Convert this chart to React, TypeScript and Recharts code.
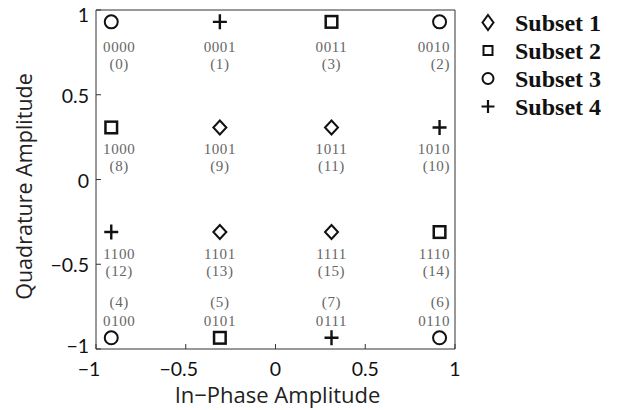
import React from 'react';
import { ScatterChart, Scatter, XAxis, YAxis, Legend, ReferenceArea } from 'recharts';

const xTicks = [-1, -0.5, 0, 0.5, 1];
const yTicks = [-1, -0.5, 0, 0.5, 1];
const subsetNames = ['Subset 1', 'Subset 2', 'Subset 3', 'Subset 4'];
const subsetKinds = ['diamond', 'square', 'circle', 'cross'];

const subset1 = [
  { x: -0.31, y: 0.307, code: '1001', idx: 9 },
  { x: 0.312, y: 0.307, code: '1011', idx: 11 },
  { x: -0.31, y: -0.31, code: '1101', idx: 13 },
  { x: 0.312, y: -0.31, code: '1111', idx: 15 },
];
const subset2 = [
  { x: 0.312, y: 0.93, code: '0011', idx: 3 },
  { x: -0.915, y: 0.307, code: '1000', idx: 8 },
  { x: 0.914, y: -0.31, code: '1110', idx: 14 },
  { x: -0.31, y: -0.934, code: '0101', idx: 5 },
];
const subset3 = [
  { x: -0.915, y: 0.93, code: '0000', idx: 0 },
  { x: 0.914, y: 0.93, code: '0010', idx: 2 },
  { x: -0.915, y: -0.934, code: '0100', idx: 4 },
  { x: 0.914, y: -0.934, code: '0110', idx: 6 },
];
const subset4 = [
  { x: -0.31, y: 0.93, code: '0001', idx: 1 },
  { x: 0.914, y: 0.307, code: '1010', idx: 10 },
  { x: -0.915, y: -0.31, code: '1100', idx: 12 },
  { x: 0.312, y: -0.934, code: '0111', idx: 7 },
];
const subsets = [subset1, subset2, subset3, subset4];

const INK = '#111';
const FRAME = '#333';
const SANS = 'Open Sans, sans-serif';
const TICKFONT = 'Lato, Open Sans, sans-serif';
const SERIF = 'Liberation Serif, serif';

function Marker({ kind, cx, cy }: any) {
  const s = { fill: 'none', stroke: INK, strokeWidth: 2 };
  switch (kind) {
    case 'diamond':
      return <path d={`M${cx},${cy - 7} L${cx + 6.5},${cy} L${cx},${cy + 7} L${cx - 6.5},${cy} Z`} {...s} />;
    case 'square':
      return <rect x={cx - 5.8} y={cy - 5.8} width={11.6} height={11.6} {...s} strokeWidth={2.5} />;
    case 'circle':
      return <circle cx={cx} cy={cy} r={6.5} {...s} />;
    default:
      return <path d={`M${cx - 7},${cy} H${cx + 7} M${cx},${cy - 7.5} V${cy + 7.5}`} {...s} strokeWidth={2.4} />;
  }
}

function LegendMarker({ kind, cx, cy }: any) {
  const s = { fill: 'none', stroke: INK, strokeWidth: 2 };
  switch (kind) {
    case 'diamond':
      return <path d={`M${cx},${cy - 7.5} L${cx + 5.5},${cy} L${cx},${cy + 7.5} L${cx - 5.5},${cy} Z`} {...s} />;
    case 'square':
      return <rect x={cx - 4.5} y={cy - 4.5} width={9} height={9} {...s} />;
    case 'circle':
      return <circle cx={cx} cy={cy} r={5.5} {...s} />;
    default:
      return <path d={`M${cx - 6.5},${cy} H${cx + 6.5} M${cx},${cy - 6.5} V${cy + 6.5}`} {...s} strokeWidth={2.2} />;
  }
}

const makeShape = (kind: string) => (props: any) => {
  const { cx, cy, payload } = props;
  let codeDy = 26.5;
  let idxDy = 44;
  if (payload.y > 0.8) { codeDy = 30; idxDy = 47; }
  else if (payload.y < -0.8) { codeDy = -12; idxDy = -31; }
  let tx = cx;
  let anchor: any = 'middle';
  if (payload.x < -0.8) tx = cx + 8;
  else if (payload.x > 0.8) { tx = cx + 10.5; anchor = 'end'; }
  const tStyle = { fontFamily: SERIF, fontSize: 15, fill: '#666', letterSpacing: 0.6 };
  return (
    <g>
      <Marker kind={kind} cx={cx} cy={cy} />
      <text x={tx} y={cy + codeDy} textAnchor={anchor} {...tStyle}>{payload.code}</text>
      <text x={tx} y={cy + idxDy} textAnchor={anchor} {...tStyle}>{`(${payload.idx})`}</text>
    </g>
  );
};

const fmt = (v: number) => (v < 0 ? `\u2212${Math.abs(v)}` : `${v}`);

const BottomTick = (props: any) => {
  const { x, y, payload } = props;
  const v = payload.value;
  return (
    <g>
      <line x1={x} x2={x} y1={y} y2={y - 5} stroke={FRAME} />
      <text x={x - (v < 0 ? 7 : 0)} y={y + 27} textAnchor="middle" fontFamily={TICKFONT} fontSize={19.5} fill={INK}>{fmt(v)}</text>
    </g>
  );
};
const TopTick = (props: any) => {
  const { x, y } = props;
  return <line x1={x} x2={x} y1={y} y2={y + 5} stroke={FRAME} />;
};
const LeftTick = (props: any) => {
  const { x, y, payload } = props;
  const v = payload.value;
  const dy = v === 1 ? 12 : v === -1 ? 4 : 8;
  return (
    <g>
      <line x1={x} x2={x + 5} y1={y} y2={y} stroke={FRAME} />
      <text x={x - 7} y={y + dy} textAnchor="end" fontFamily={TICKFONT} fontSize={19.5} fill={INK}>{fmt(v)}</text>
    </g>
  );
};
const RightTick = (props: any) => {
  const { x, y } = props;
  return <line x1={x} x2={x - 5} y1={y} y2={y} stroke={FRAME} />;
};

const LegendContent = () => (
  <svg width={149} height={120}>
    {subsetNames.map((name, i) => {
      const cy = 17.5 + i * 28;
      return (
        <g key={name}>
          <LegendMarker kind={subsetKinds[i]} cx={18} cy={cy} />
          <text x={45} y={cy + 8} fontFamily={SERIF} fontWeight="bold" fontSize={24} fill={INK}>{name}</text>
        </g>
      );
    })}
  </svg>
);

export default function App() {
  return (
    <div style={{ position: 'absolute', left: 0, top: 0 }}>
      <ScatterChart width={619} height={410} margin={{ top: 10, right: 164, bottom: 0, left: 0 }}>
        <XAxis
          type="number"
          dataKey="x"
          domain={[-1, 1]}
          ticks={xTicks}
          height={61}
          tickSize={0}
          tickMargin={0}
          axisLine={false}
          tickLine={false}
          tick={<BottomTick />}
          allowDataOverflow
          label={{
            content: (p: any) => {
              const vb = p.viewBox;
              return (
                <text x={vb.x + vb.width / 2 + 2} y={vb.y + 54} textAnchor="middle" fontFamily={SANS} fontSize={22} fill="#222">
                  In{'\u2212'}Phase Amplitude
                </text>
              );
            },
          }}
        />
        <XAxis xAxisId="top" orientation="top" type="number" dataKey="x" domain={[-1, 1]} ticks={xTicks} height={0}
          tickSize={0} tickMargin={0} axisLine={false} tickLine={false} tick={<TopTick />} allowDataOverflow />
        <YAxis
          type="number"
          dataKey="y"
          domain={[-1, 1]}
          ticks={yTicks}
          width={96}
          tickSize={0}
          tickMargin={0}
          axisLine={false}
          tickLine={false}
          tick={<LeftTick />}
          allowDataOverflow
          label={{
            content: (p: any) => {
              const vb = p.viewBox;
              const cy = vb.y + vb.height / 2 + 7;
              return (
                <text x={32} y={cy} transform={`rotate(-90, 32, ${cy})`} textAnchor="middle" fontFamily={SANS} fontSize={21.5} fill="#222">
                  Quadrature Amplitude
                </text>
              );
            },
          }}
        />
        <YAxis yAxisId="right" orientation="right" type="number" dataKey="y" domain={[-1, 1]} ticks={yTicks} width={0}
          tickSize={0} tickMargin={0} axisLine={false} tickLine={false} tick={<RightTick />} allowDataOverflow />
        <ReferenceArea x1={-1} x2={1} y1={-1} y2={1} fill="none" stroke={FRAME} strokeWidth={1} ifOverflow="visible" />
        {subsets.map((data, i) => (
          <Scatter
            key={subsetNames[i]}
            name={subsetNames[i]}
            data={data}
            shape={makeShape(subsetKinds[i])}
            isAnimationActive={false}
          />
        ))}
        <Legend
          layout="horizontal"
          align="center"
          verticalAlign="middle"
          content={<LegendContent />}
          wrapperStyle={{ left: 470, top: 5, width: 149, height: 120 }}
        />
      </ScatterChart>
    </div>
  );
}
